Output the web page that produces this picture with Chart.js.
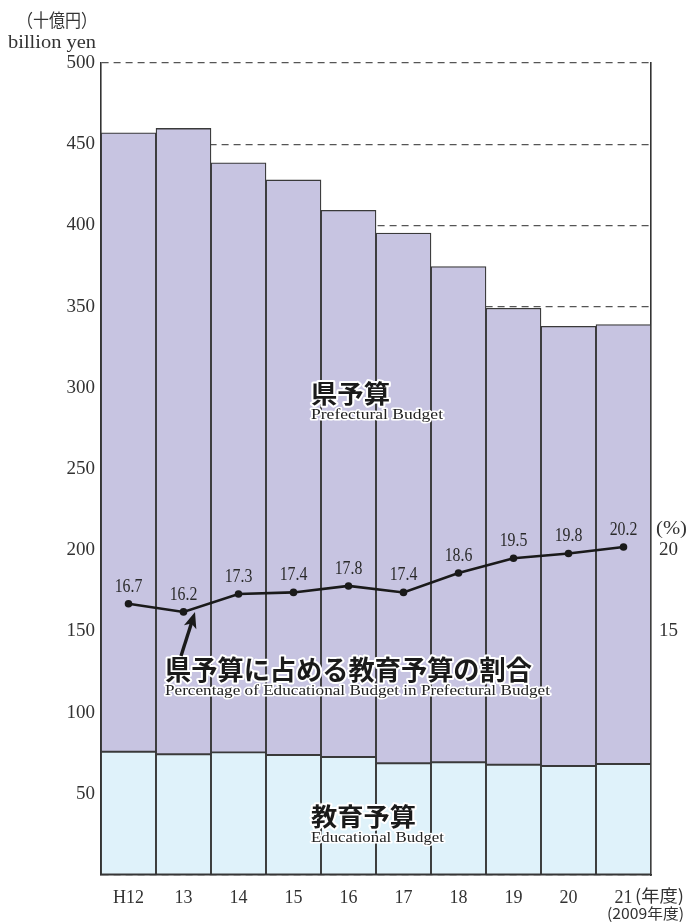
<!DOCTYPE html>
<html lang="ja">
<head>
<meta charset="utf-8">
<title>県予算と教育予算</title>
<script src="https://cdn.jsdelivr.net/npm/chart.js@4.4.1/dist/chart.umd.min.js"></script>
<style>
    html, body { margin: 0; padding: 0; background: #ffffff; }
    #wrap { position: relative; width: 688px; height: 924px; }
</style>
</head>
<body>
<div id="wrap"><canvas id="budget-chart"></canvas></div>
<script>
// 年度
const years = ['H12', '13', '14', '15', '16', '17', '18', '19', '20', '21'];
// 県予算（十億円）
const prefBudget = [457, 459.7, 438.6, 428, 409.3, 395.3, 374.6, 349, 337.9, 338.9];
// 教育予算（十億円）
const eduBudget = [75.9, 74.3, 75.5, 73.9, 72.7, 68.8, 69.4, 67.9, 67.1, 68.3];
// 県予算に占める教育予算の割合（%）
const eduShare = [16.7, 16.2, 17.3, 17.4, 17.8, 17.4, 18.6, 19.5, 19.8, 20.2];
// 目盛
const leftTicks = [50, 100, 150, 200, 250, 300, 350, 400, 450, 500];
const rightTicks = [15, 20];

const SERIF = '"Liberation Serif", "DejaVu Serif", serif';
const JP = '"Noto Sans CJK JP", "Noto Sans CJK SC", sans-serif';

// 白フチ付きの文字（横幅を合わせる）
function haloText(ctx, text, x, y, font, opts) {
    opts = opts || {};
    ctx.save();
    ctx.font = font;
    ctx.textBaseline = 'middle';
    ctx.textAlign = 'left';
    let w = ctx.measureText(text).width;
    let sx = opts.width ? opts.width / w : (opts.sx || 1);
    let left = x;
    if (opts.align === 'center') left = x - w * sx / 2;
    if (opts.align === 'right') left = x - w * sx;
    ctx.translate(left, y);
    ctx.scale(sx, 1);
    if (opts.halo) {
        ctx.lineJoin = 'round';
        ctx.strokeStyle = '#ffffff';
        ctx.lineWidth = opts.halo;
        ctx.strokeText(text, 0, 0);
    }
    ctx.fillStyle = opts.color || '#222222';
    ctx.fillText(text, 0, 0);
    ctx.restore();
}

// 注記・単位・データラベル
const annotations = {
    id: 'annotations',
    afterDatasetsDraw(chart) {
        const ctx = chart.ctx;
        const meta = chart.getDatasetMeta(2);

        // 割合のデータラベル
        meta.data.forEach((pt, i) => {
            haloText(ctx, eduShare[i].toFixed(1), pt.x, pt.y - 17, '18px ' + SERIF,
                { align: 'center', sx: 0.88, color: '#2a2a2a' });
        });

        // 系列名
        haloText(ctx, '県予算', 311, 393, 'bold 25px ' + JP, { width: 79, halo: 4, color: '#1a1a1a' });
        haloText(ctx, 'Prefectural Budget', 311, 415, '14px ' + SERIF, { width: 132, halo: 3 });
        haloText(ctx, '県予算に占める教育予算の割合', 165, 670, 'bold 27px ' + JP, { width: 367, halo: 4, color: '#1a1a1a' });
        haloText(ctx, 'Percentage of Educational Budget in Prefectural Budget', 165, 691, '14px ' + SERIF, { width: 385, halo: 3 });
        haloText(ctx, '教育予算', 311, 816, 'bold 25px ' + JP, { width: 105, halo: 4, color: '#1a1a1a' });
        haloText(ctx, 'Educational Budget', 311, 838, '14px ' + SERIF, { width: 133, halo: 3 });

        // 矢印
        ctx.save();
        ctx.strokeStyle = '#1a1a1a';
        ctx.fillStyle = '#1a1a1a';
        ctx.lineWidth = 3.4;
        const x1 = 181, y1 = 656, x2 = 195, y2 = 612;
        const ang = Math.atan2(y2 - y1, x2 - x1);
        const c = Math.cos(ang), s = Math.sin(ang);
        ctx.beginPath();
        ctx.moveTo(x1, y1);
        ctx.lineTo(x2 - 10 * c, y2 - 10 * s);
        ctx.stroke();
        ctx.beginPath();
        ctx.moveTo(x2, y2);
        ctx.lineTo(x2 - 16 * c + 6.5 * s, y2 - 16 * s - 6.5 * c);
        ctx.lineTo(x2 - 12 * c, y2 - 12 * s);
        ctx.lineTo(x2 - 16 * c - 6.5 * s, y2 - 16 * s + 6.5 * c);
        ctx.closePath();
        ctx.fill();
        ctx.restore();

        // 単位
        haloText(ctx, '（十億円）', 97, 20, '18px ' + JP, { align: 'right', width: 80, color: '#333' });
        haloText(ctx, 'billion yen', 96, 43, '18px ' + SERIF, { align: 'right', width: 88, color: '#333' });
        haloText(ctx, '(%)', 656, 529, '18px ' + SERIF, { width: 31, color: '#333' });
        haloText(ctx, '(年度)', 635, 896, '17px ' + JP, { width: 49, color: '#333' });
        haloText(ctx, '(2009年度)', 607, 913, '15px ' + JP, { width: 77, color: '#333' });
    }
};

const ctx = document.getElementById('budget-chart').getContext('2d');

window.budgetChart = new Chart(ctx, {
    type: 'bar',
    data: {
        labels: years,
        datasets: [
            {
                label: '教育予算',
                data: eduBudget,
                backgroundColor: '#dff2fa',
                borderColor: '#3a3a3a',
                borderWidth: 1.3,
                borderSkipped: false,
                stack: 'budget',
                order: 2
            },
            {
                label: '県予算',
                data: prefBudget.map((v, i) => v - eduBudget[i]),
                backgroundColor: '#c7c4e1',
                borderColor: '#3a3a3a',
                borderWidth: 1.3,
                borderSkipped: false,
                stack: 'budget',
                order: 2
            },
            {
                type: 'line',
                label: '県予算に占める教育予算の割合',
                data: eduShare,
                yAxisID: 'y2',
                borderColor: '#1a1a1a',
                backgroundColor: '#1a1a1a',
                borderWidth: 2.6,
                pointRadius: 3.8,
                pointBackgroundColor: '#1a1a1a',
                pointBorderWidth: 0,
                tension: 0,
                order: 1
            }
        ]
    },
    options: {
        responsive: true,
        maintainAspectRatio: false,
        animation: false,
        layout: {
            padding: { top: 63, left: 0, right: 0, bottom: 0 }
        },
        plugins: {
            legend: { display: false },
            tooltip: { enabled: false }
        },
        datasets: {
            bar: { categoryPercentage: 1.0, barPercentage: 1.0 }
        },
        scales: {
            x: {
                stacked: true,
                grid: { display: false, drawTicks: false },
                border: { display: true, color: '#333333', width: 1.6 },
                ticks: {
                    color: '#333333',
                    font: { family: SERIF, size: 18 },
                    padding: 12,
                    maxRotation: 0
                },
                afterFit(scale) { scale.height = 49; }
            },
            y: {
                stacked: true,
                min: 0,
                max: 500,
                afterBuildTicks(scale) {
                    scale.ticks = [0].concat(leftTicks).map(v => ({ value: v }));
                },
                grid: {
                    color: '#555555',
                    lineWidth: 1.2,
                    drawTicks: false
                },
                border: { display: true, color: '#333333', width: 1.6, dash: [7, 5] },
                ticks: {
                    color: '#333333',
                    font: { family: SERIF, size: 19 },
                    padding: 6,
                    callback: v => (v === 0 ? '' : v)
                },
                afterFit(scale) { scale.width = 101; }
            },
            y2: {
                position: 'right',
                min: 0,
                max: 50,
                afterBuildTicks(scale) {
                    scale.ticks = rightTicks.map(v => ({ value: v }));
                },
                grid: { display: false, drawTicks: false },
                border: { display: true, color: '#333333', width: 1.6 },
                ticks: {
                    color: '#333333',
                    font: { family: SERIF, size: 19 },
                    padding: 8
                },
                afterFit(scale) { scale.width = 37; }
            }
        }
    },
    plugins: [annotations]
});
</script>
</body>
</html>
